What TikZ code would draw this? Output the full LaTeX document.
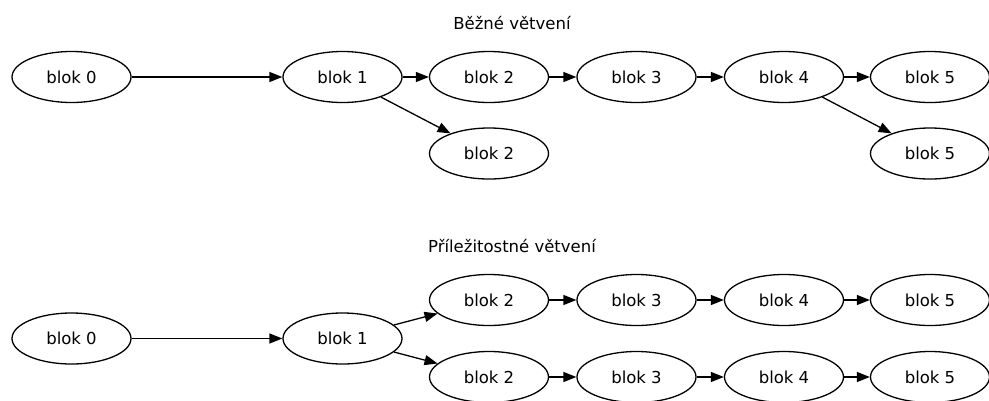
\documentclass[tikz,border=0pt]{standalone}
\usepackage{fontspec}
\setmainfont{DejaVu Sans}
\usetikzlibrary{shapes.geometric,arrows.meta}
\begin{document}
\begin{tikzpicture}[x=1pt,y=-1pt,
  blk/.style={draw,ellipse,line width=1.3pt,minimum width=119pt,minimum height=51pt,inner sep=0pt,font=\fontsize{16.5}{20}\selectfont},
  ttl/.style={font=\fontsize{16.5}{20}\selectfont},
  edge/.style={line width=1.3pt,-{Triangle[length=13pt,width=10pt]}}]
\useasboundingbox (0,0) rectangle (989,400);
% top
\node[ttl] (t1) at (512,23) {Běžné větvení};
\node[blk] (a0) at (71.5,77) {blok 0};
\node[blk] (a1) at (342.5,77) {blok 1};
\node[blk] (a2) at (489,77) {blok 2};
\node[blk] (a3) at (636.5,77) {blok 3};
\node[blk] (a4) at (784,77) {blok 4};
\node[blk] (a5) at (930,77) {blok 5};
\node[blk] (b2) at (489,153.5) {blok 2};
\node[blk] (b5) at (930,153.5) {blok 5};
\draw[edge] (a0) -- (a1);
\draw[edge] (a1) -- (a2);
\draw[edge] (a2) -- (a3);
\draw[edge] (a3) -- (a4);
\draw[edge] (a4) -- (a5);
\draw[edge] (a1) -- (b2);
\draw[edge] (a4) -- (b5);
% bottom
\node[ttl] (t2) at (512,246) {Příležitostné větvení};
\node[blk] (c0) at (71.5,338.5) {blok 0};
\node[blk] (c1) at (342.5,338.5) {blok 1};
\node[blk] (d2) at (489,300) {blok 2};
\node[blk] (d3) at (636.5,300) {blok 3};
\node[blk] (d4) at (784,300) {blok 4};
\node[blk] (d5) at (930,300) {blok 5};
\node[blk] (e2) at (489,377) {blok 2};
\node[blk] (e3) at (636.5,377) {blok 3};
\node[blk] (e4) at (784,377) {blok 4};
\node[blk] (e5) at (930,377) {blok 5};
\draw[edge] (c0) -- (c1);
\draw[edge] (c1) -- (d2);
\draw[edge] (c1) -- (e2);
\draw[edge] (d2) -- (d3);
\draw[edge] (d3) -- (d4);
\draw[edge] (d4) -- (d5);
\draw[edge] (e2) -- (e3);
\draw[edge] (e3) -- (e4);
\draw[edge] (e4) -- (e5);
\end{tikzpicture}
\end{document}
